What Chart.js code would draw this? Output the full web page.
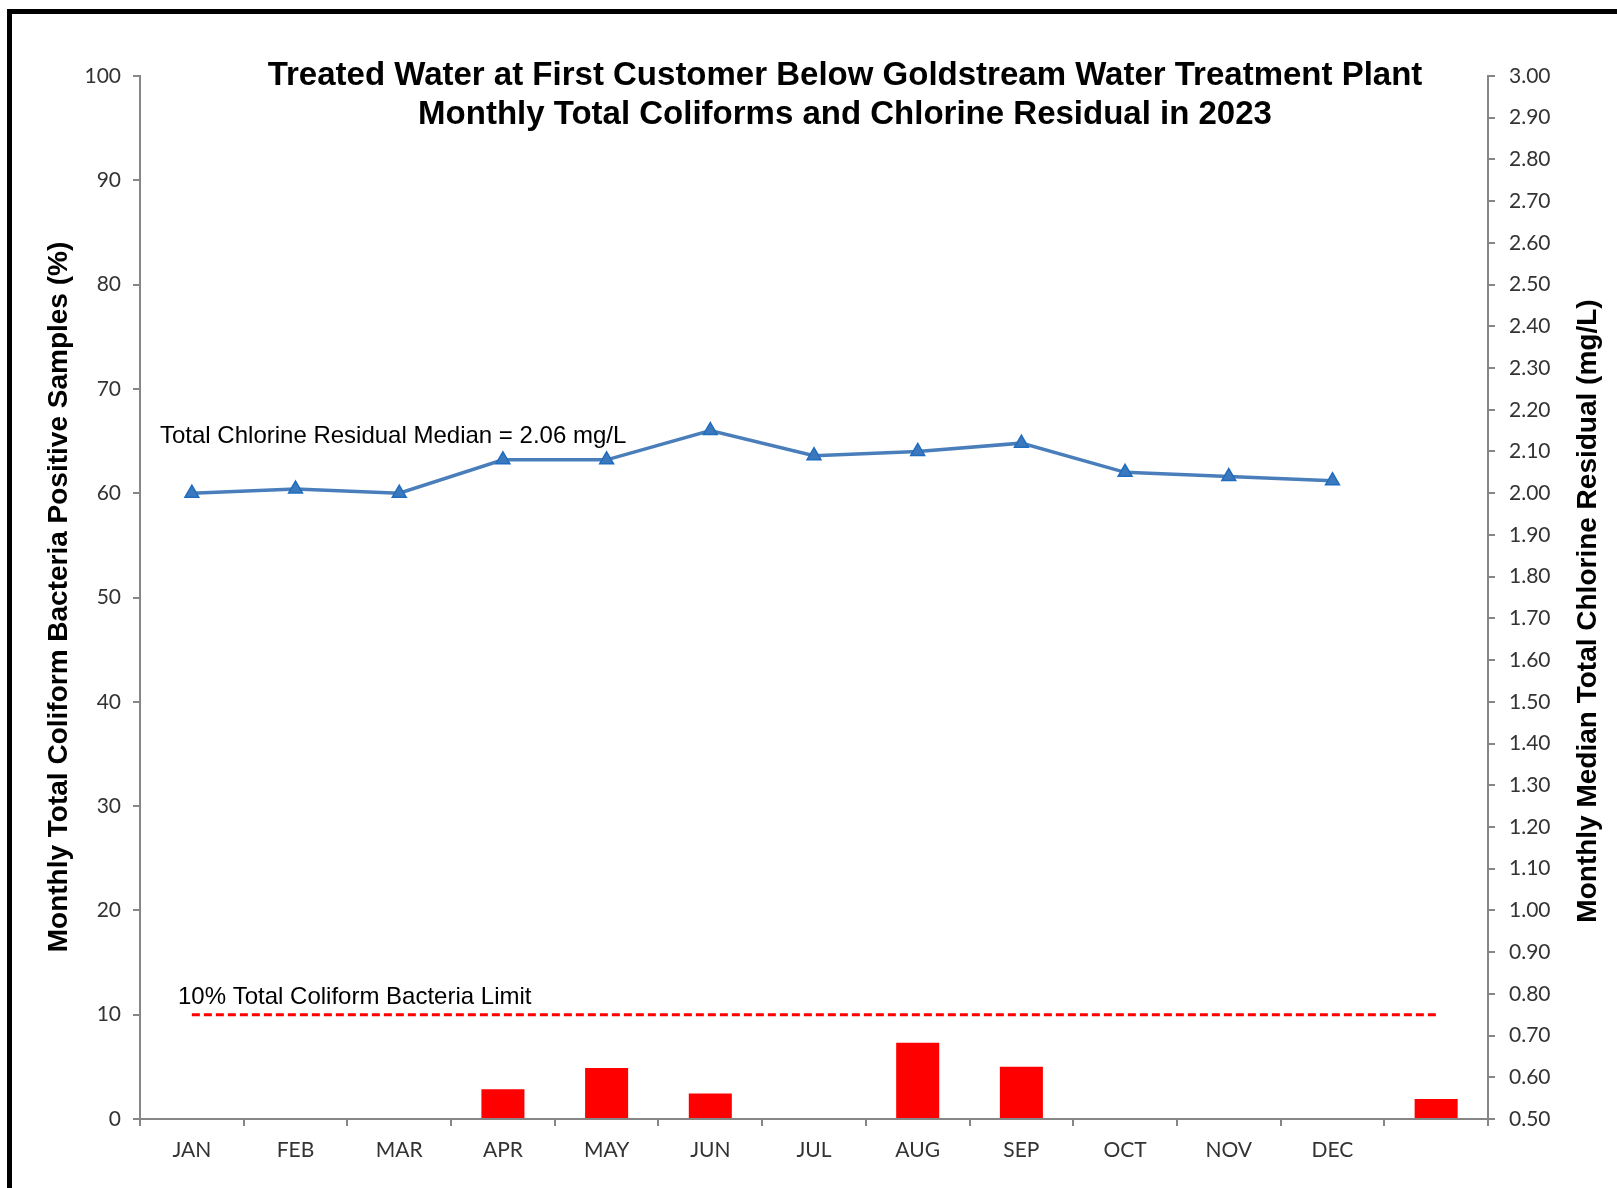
<!DOCTYPE html>
<html>
<head>
<meta charset="utf-8">
<script src="https://cdn.jsdelivr.net/npm/chart.js@4.4.1/dist/chart.umd.min.js"></script>
<style>
  html, body { margin: 0; padding: 0; background: #fff; }
  #wrap { position: relative; width: 1617px; height: 1188px; }
  #frame {
    position: absolute; left: 7px; top: 9px; width: 1700px; height: 1300px;
    border-left: 5px solid #000; border-top: 5px solid #000; pointer-events: none;
  }
</style>
</head>
<body>
<div id="wrap">
  <canvas id="grafico"></canvas>
  <div id="frame"></div>
</div>
<script>
// dados
const meses = ["JAN", "FEB", "MAR", "APR", "MAY", "JUN", "JUL", "AUG", "SEP", "OCT", "NOV", "DEC", ""];
const coliformes = [0, 0, 0, 2.86, 4.88, 2.44, 0, 7.32, 5.0, 0, 0, 0, 1.92];
const cloro = [2.00, 2.01, 2.00, 2.08, 2.08, 2.15, 2.09, 2.10, 2.12, 2.05, 2.04, 2.03, null];
const limite = [10, 10, 10, 10, 10, 10, 10, 10, 10, 10, 10, 10, 10];

const titulo = [
  "Treated Water at First Customer Below Goldstream Water Treatment Plant",
  "Monthly Total Coliforms and Chlorine Residual in 2023"
];
const tituloEsq = "Monthly Total Coliform Bacteria Positive Samples (%)";
const tituloDir = "Monthly Median Total Chlorine Residual (mg/L)";
const notaCloro = "Total Chlorine Residual Median = 2.06 mg/L";
const notaLimite = "10% Total Coliform Bacteria Limit";

const canvas = document.getElementById("grafico");
canvas.width = 1617;
canvas.height = 1188;
canvas.style.width = "1617px";
canvas.style.height = "1188px";

const cinza = "#868686";
const fonteTicks = { family: "Lato", size: 21 };

// textos extras (titulo, titulos dos eixos, notas)
const textos = {
  id: "textos",
  afterDraw(chart) {
    const ctx = chart.ctx;
    ctx.save();
    ctx.fillStyle = "#000";
    ctx.textBaseline = "middle";
    ctx.textAlign = "center";
    ctx.font = 'bold 33px "Liberation Sans"';
    ctx.fillText(titulo[0], 845, 76);
    ctx.fillText(titulo[1], 845, 115);

    ctx.font = 'bold 28px "Liberation Sans"';
    ctx.save();
    ctx.translate(59, 597);
    ctx.rotate(-Math.PI / 2);
    ctx.fillText(tituloEsq, 0, 0);
    ctx.restore();
    ctx.save();
    ctx.translate(1588, 611);
    ctx.rotate(-Math.PI / 2);
    ctx.fillText(tituloDir, 0, 0);
    ctx.restore();

    ctx.textAlign = "left";
    ctx.font = '24px "Liberation Sans"';
    ctx.fillText(notaCloro, 160, 436);
    ctx.fillText(notaLimite, 178, 997);
    ctx.restore();
  }
};

let conf = {
  data: {
    labels: meses,
    datasets: [
      {
        type: "line",
        label: "Chlorine",
        data: cloro,
        yAxisID: "y1",
        borderColor: "#4a7ebb",
        borderWidth: 3.5,
        pointStyle: "triangle",
        pointRadius: 8,
        pointBackgroundColor: "#3c78bc",
        pointBorderColor: "#1f6dc0",
        pointBorderWidth: 1.5,
        order: 1
      },
      {
        type: "line",
        label: "Limit",
        data: limite,
        yAxisID: "y",
        borderColor: "#ff0000",
        borderWidth: 3,
        borderDash: [8, 4],
        pointRadius: 0,
        order: 2
      },
      {
        type: "bar",
        label: "Coliforms",
        data: coliformes,
        yAxisID: "y",
        backgroundColor: "#ff0000",
        barPercentage: 0.415,
        categoryPercentage: 1,
        order: 3
      }
    ]
  },
  options: {
    responsive: false,
    animation: false,
    layout: { padding: { left: 0, right: 0, top: 76, bottom: 0 } },
    plugins: {
      legend: { display: false },
      tooltip: { enabled: false }
    },
    scales: {
      x: {
        offset: true,
        grid: { offset: true, drawOnChartArea: false, drawTicks: true, tickLength: 7, color: cinza, lineWidth: 2 },
        border: { color: cinza, width: 2 },
        ticks: { color: "#333", font: fonteTicks, padding: 12, maxRotation: 0, autoSkip: false },
        afterFit(scale) { scale.height = 69; }
      },
      y: {
        position: "left",
        min: 0,
        max: 100,
        ticks: { stepSize: 10, color: "#333", font: fonteTicks, padding: 12 },
        grid: { drawOnChartArea: false, drawTicks: true, tickLength: 7, color: cinza, lineWidth: 2 },
        border: { color: cinza, width: 2 },
        afterFit(scale) { scale.width = 140; }
      },
      y1: {
        position: "right",
        min: 0.5,
        max: 3.0,
        ticks: {
          stepSize: 0.1,
          color: "#333",
          font: fonteTicks,
          padding: 14,
          callback: (v) => Number(v).toFixed(2)
        },
        grid: { drawOnChartArea: false, drawTicks: true, tickLength: 7, color: cinza, lineWidth: 2 },
        border: { color: cinza, width: 2 },
        afterFit(scale) { scale.width = 129; }
      }
    }
  },
  plugins: [textos]
};

new Chart(canvas, conf);
</script>
</body>
</html>
